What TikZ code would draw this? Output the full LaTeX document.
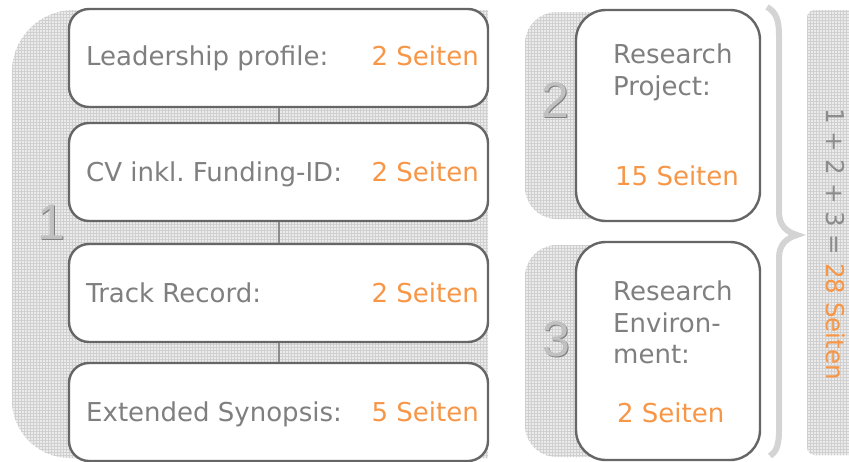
\documentclass[tikz,border=0pt]{standalone}
\usepackage{fontspec}
\setmainfont{DejaVu Sans}
\newfontfamily\digitfamily{Liberation Sans}
\usetikzlibrary{patterns}
\frenchspacing
\definecolor{boxline}{HTML}{666666}
\definecolor{txtgray}{HTML}{7F7F7F}
\definecolor{orng}{HTML}{F79646}
\definecolor{bgfill}{HTML}{EBEBEB}
\definecolor{hatch}{HTML}{D0D0D0}
\definecolor{bracecol}{HTML}{D4D4D4}
\definecolor{digitcol}{HTML}{C0C0C0}
\definecolor{digitshade}{HTML}{808080}
\definecolor{conncol}{HTML}{8C8C8C}
\newcommand\txtfont{\fontsize{26}{30}\selectfont}
\newcommand\digfont{\digitfamily\fontsize{50}{50}\selectfont}
\newcommand\sumfont{\fontsize{24.5}{28}\selectfont}
\begin{document}
\begin{tikzpicture}[x=1pt,y=-1pt,
  bg/.style={preaction={fill=bgfill},pattern=grid,pattern color=hatch},
  card/.style={draw=boxline,line width=2.4pt,fill=white,rectangle,inner sep=0pt},
  lcard/.style={card,rounded corners=20pt,minimum width=419pt,minimum height=98pt},
  rcard/.style={card,rounded corners=30pt,minimum width=184pt},
  lbl/.style={inner sep=0pt,text=txtgray,font=\txtfont,anchor=base west},
  pages/.style={inner sep=0pt,text=orng,font=\txtfont},
  conn/.style={draw=conncol,line width=2pt},
  bignum/.style={inner sep=0pt,text=digitcol,font=\digfont},
  bignumshade/.style={inner sep=0pt,text=digitshade,font=\digfont}]
\useasboundingbox (0,0) rectangle (849,461);
% backgrounds
\path[bg] (488,10) [rounded corners=62pt] -- (12,10) [rounded corners=58pt] -- (12,458) [sharp corners] -- (488,458) -- cycle;
\path[bg] (700,12) [rounded corners=32pt] -- (525,12) -- (525,219) [sharp corners] -- (700,219) -- cycle;
\path[bg] (700,245) [rounded corners=32pt] -- (525,245) -- (525,457) [sharp corners] -- (700,457) -- cycle;
\path[bg,rounded corners=8pt] (807,10) rectangle (860,455);
% brace
\draw[bracecol,line width=6pt] (767,7) .. controls (776,12) and (779,20) .. (779,35) -- (779,212)
  .. controls (779,226) and (787,232) .. (797,235) .. controls (787,238) and (779,244) .. (779,258)
  -- (779,430) .. controls (779,446) and (776,452) .. (770,456);
% big digits
\node[bignumshade] (d1s) at (52.2,223.2) {1};
\node[bignum] (d1) at (51,222) {1};
\node[bignumshade] (d2s) at (556.2,101.2) {2};
\node[bignum] (d2) at (555,100) {2};
\node[bignumshade] (d3s) at (557.2,340.2) {3};
\node[bignum] (d3) at (556,339) {3};
% left cards
\node[lcard] (b1) at (278.5,58) {};
\node[lcard] (b2) at (278.5,172) {};
\node[lcard] (b3) at (278.5,293) {};
\node[lcard] (b4) at (278.5,412) {};
\draw[conn] (b1.south) -- (b2.north);
\draw[conn] (b2.south) -- (b3.north);
\draw[conn] (b3.south) -- (b4.north);
\node[lbl] (t1) at (86,65) {Leadership profile:};
\node[lbl] (t2) at (86,181) {CV inkl. Funding-ID:};
\node[lbl] (t3) at (86,302) {Track Record:};
\node[lbl] (t4) at (86,421) {Extended Synopsis:};
\node[pages,anchor=base east] (p1) at (479,65) {2 Seiten};
\node[pages,anchor=base east] (p2) at (479,181) {2 Seiten};
\node[pages,anchor=base east] (p3) at (479,302) {2 Seiten};
\node[pages,anchor=base east] (p4) at (479,421) {5 Seiten};
% right cards
\node[rcard,minimum height=211pt] (r1) at (668,115.5) {};
\node[rcard,minimum height=218pt] (r2) at (668,351) {};
\node[lbl] (r1a) at (613,63) {Research};
\node[lbl] (r1b) at (613,95) {Project:};
\node[pages,anchor=base west] (r1p) at (615,185) {15 Seiten};
\node[lbl] (r2a) at (613,300) {Research};
\node[lbl] (r2b) at (613,332) {Environ-};
\node[lbl] (r2c) at (613,363) {ment:};
\node[pages,anchor=base west] (r2p) at (617,422) {2 Seiten};
% sum
\node[inner sep=0pt,text=conncol,font=\sumfont,rotate=-90,anchor=base west] (sum) at (826,108) {1 + 2 + 3 = {\color{orng}28 Seiten}};
\end{tikzpicture}
\end{document}
